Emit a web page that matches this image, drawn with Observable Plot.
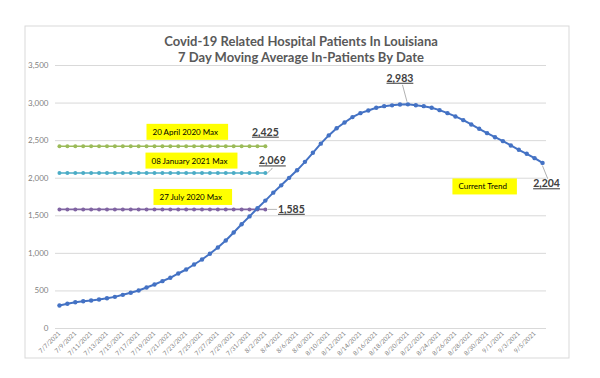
<!DOCTYPE html>
<html><head><meta charset="utf-8">
<script src="https://cdn.jsdelivr.net/npm/d3@7"></script>
<script src="https://cdn.jsdelivr.net/npm/@observablehq/plot@0.6"></script>
<style>
body{margin:0;background:#fff;}
</style></head><body><div id="chart"></div>
<script>
// ---- data ----
const dates = ["7/7/2021","7/8/2021","7/9/2021","7/10/2021","7/11/2021","7/12/2021","7/13/2021","7/14/2021","7/15/2021","7/16/2021",
"7/17/2021","7/18/2021","7/19/2021","7/20/2021","7/21/2021","7/22/2021","7/23/2021","7/24/2021","7/25/2021","7/26/2021",
"7/27/2021","7/28/2021","7/29/2021","7/30/2021","7/31/2021","8/1/2021","8/2/2021","8/3/2021","8/4/2021","8/5/2021",
"8/6/2021","8/7/2021","8/8/2021","8/9/2021","8/10/2021","8/11/2021","8/12/2021","8/13/2021","8/14/2021","8/15/2021",
"8/16/2021","8/17/2021","8/18/2021","8/19/2021","8/20/2021","8/21/2021","8/22/2021","8/23/2021","8/24/2021","8/25/2021",
"8/26/2021","8/27/2021","8/28/2021","8/29/2021","8/30/2021","8/31/2021","9/1/2021","9/2/2021","9/3/2021","9/4/2021",
"9/5/2021","9/6/2021"];
const patients = [306,329,350,363,373,386,403,421,448,475,
506,546,586,630,675,732,785,852,918,994,
1078,1171,1278,1388,1492,1600,1702,1808,1905,2005,
2105,2218,2338,2460,2570,2665,2742,2813,2866,2902,
2937,2959,2970,2980,2983,2972,2959,2937,2906,2866,
2822,2773,2715,2658,2600,2546,2493,2436,2378,2325,
2267,2204];
const maxLabels = ["20 April 2020 Max","08 January 2021 Max","27 July 2020 Max"];
const maxValues = [2425, 2069, 1585];
const maxLastDate = "8/2/2021";
const maxLabelDate = "7/19/2021";
const peakDate = "8/20/2021", peakValue = 2983;
const lastDate = "9/6/2021", lastValue = 2204;
const trendLabel = "Current Trend";
const trendDate = "8/26/2021";
const yTicks = [0,500,1000,1500,2000,2500,3000,3500];
const xTickLabels = dates.filter((d,i) => i % 2 === 0);
const titleText = "Covid-19 Related Hospital Patients In Louisiana\n7 Day Moving Average In-Patients By Date";

// ---- styles ----
const maxColors = ["#9BBB59","#4BACC6","#8064A2"];
const blue = "#4472C4";
const fmt = d3.format(",");

const series = dates.map((d,i) => ({date: d, value: patients[i]}));
const refDates = dates.slice(0, dates.indexOf(maxLastDate) + 1);
const refRows = maxValues.flatMap((v,k) => refDates.map(d => ({date: d, value: v, color: maxColors[k]})));

const noteStyle = {textAnchor: "start", fontSize: 8, fill: "#000", className: "note", ariaDescription: "note"};
const valStyle = {textAnchor: "middle", fontSize: 10.5, fontWeight: "bold", fill: "#404040", className: "val", ariaDescription: "val"};
const leadStyle = {anchor: "start", stroke: "#a6a6a6", strokeWidth: 0.8, r: 0.01};

const plot = Plot.plot({
  width: 600, height: 378,
  marginLeft: 55, marginRight: 54, marginTop: 65, marginBottom: 50,
  style: {fontFamily: "Lato, 'Liberation Sans', sans-serif", background: "#fff"},
  x: {type: "point", domain: dates, padding: 0.5},
  y: {domain: [0, 3500]},
  color: {type: "identity"},
  marks: [
    Plot.ruleY(yTicks, {stroke: "#d9d9d9", strokeWidth: 1}),
    Plot.axisY({ticks: yTicks, tickFormat: fmt, tickSize: 0, tickPadding: 7, fontSize: 8, fill: "#7f7f7f", label: null}),
    Plot.axisX({ticks: xTickLabels, tickRotate: -45, tickSize: 0, tickPadding: 4, fontSize: 6.3, fill: "#7f7f7f", label: null}),
    Plot.line(refRows, {x: "date", y: "value", z: "color", stroke: "color", strokeWidth: 1.6}),
    Plot.dot(refRows, {x: "date", y: "value", fill: "color", r: 2}),
    Plot.line(series, {x: "date", y: "value", stroke: blue, strokeWidth: 2}),
    Plot.dot(series, {x: "date", y: "value", fill: blue, r: 2.2}),
    // annotation notes
    Plot.text([maxLabels[0]], {...noteStyle, x: () => maxLabelDate, y: () => maxValues[0], text: d => d, dx: -2, dy: -14}),
    Plot.text([maxLabels[1]], {...noteStyle, x: () => maxLabelDate, y: () => maxValues[1], text: d => d, dx: -3, dy: -12}),
    Plot.text([maxLabels[2]], {...noteStyle, x: () => maxLabelDate, y: () => maxValues[2], text: d => d, dx: 5, dy: -12}),
    Plot.text([trendLabel], {...noteStyle, x: () => trendDate, y: () => lastValue, text: d => d, dx: 3, dy: 24}),
    // value labels
    Plot.text([maxValues[0]], {...valStyle, x: () => maxLastDate, y: d => d, text: d => fmt(d), dx: 0, dy: -14}),
    Plot.text([maxValues[1]], {...valStyle, x: () => maxLastDate, y: d => d, text: d => fmt(d), dx: 7, dy: -12}),
    Plot.text([maxValues[2]], {...valStyle, x: () => maxLastDate, y: d => d, text: d => fmt(d), dx: 26, dy: 0}),
    Plot.text([peakValue], {...valStyle, x: () => peakDate, y: d => d, text: d => fmt(d), dx: -8, dy: -26}),
    Plot.text([lastValue], {...valStyle, x: () => lastDate, y: d => d, text: d => fmt(d), dx: 4, dy: 21}),
    // leader lines
    Plot.vector([peakValue], {...leadStyle, x: () => peakDate, y: d => d, length: 16.6, rotate: -15, dx: -1, dy: -3}),
    Plot.vector([lastValue], {...leadStyle, x: () => lastDate, y: d => d, length: 13.3, rotate: 158, dy: 3}),
    Plot.vector([maxValues[2]], {...leadStyle, x: () => maxLastDate, y: d => d, length: 8, rotate: 90, dx: 3}),
    Plot.vector([maxValues[1]], {...leadStyle, x: () => maxLastDate, y: d => d, length: 6.4, rotate: 47, dx: 2}),
    // title
    Plot.text([titleText], {frameAnchor: "top", lineAnchor: "middle", text: d => d, dy: -17, fontSize: 13, fontWeight: "bold", fill: "#595959", lineHeight: 1.25})
  ]
});

document.getElementById("chart").appendChild(plot);
const svg = d3.select(plot);
// outer chart border
svg.insert("rect", ":first-child")
  .attr("x", 25).attr("y", 26).attr("width", 544).attr("height", 332)
  .attr("fill", "#fff").attr("stroke", "#d9d9d9").attr("stroke-width", 1);
// yellow note boxes
svg.selectAll('g.note text, g[aria-description="note"] text').each(function() {
  if (this.previousSibling && this.previousSibling.tagName === "rect") return;
  const b = this.getBBox();
  d3.select(this.parentNode).insert("rect", () => this)
    .attr("transform", this.getAttribute("transform"))
    .attr("x", b.x - 6).attr("y", b.y - 3).attr("width", b.width + 16).attr("height", b.height + 6)
    .attr("fill", "#FFFF00");
});
svg.selectAll('g.val text, g[aria-description="val"] text').style("text-decoration", "underline");
</script></body></html>
